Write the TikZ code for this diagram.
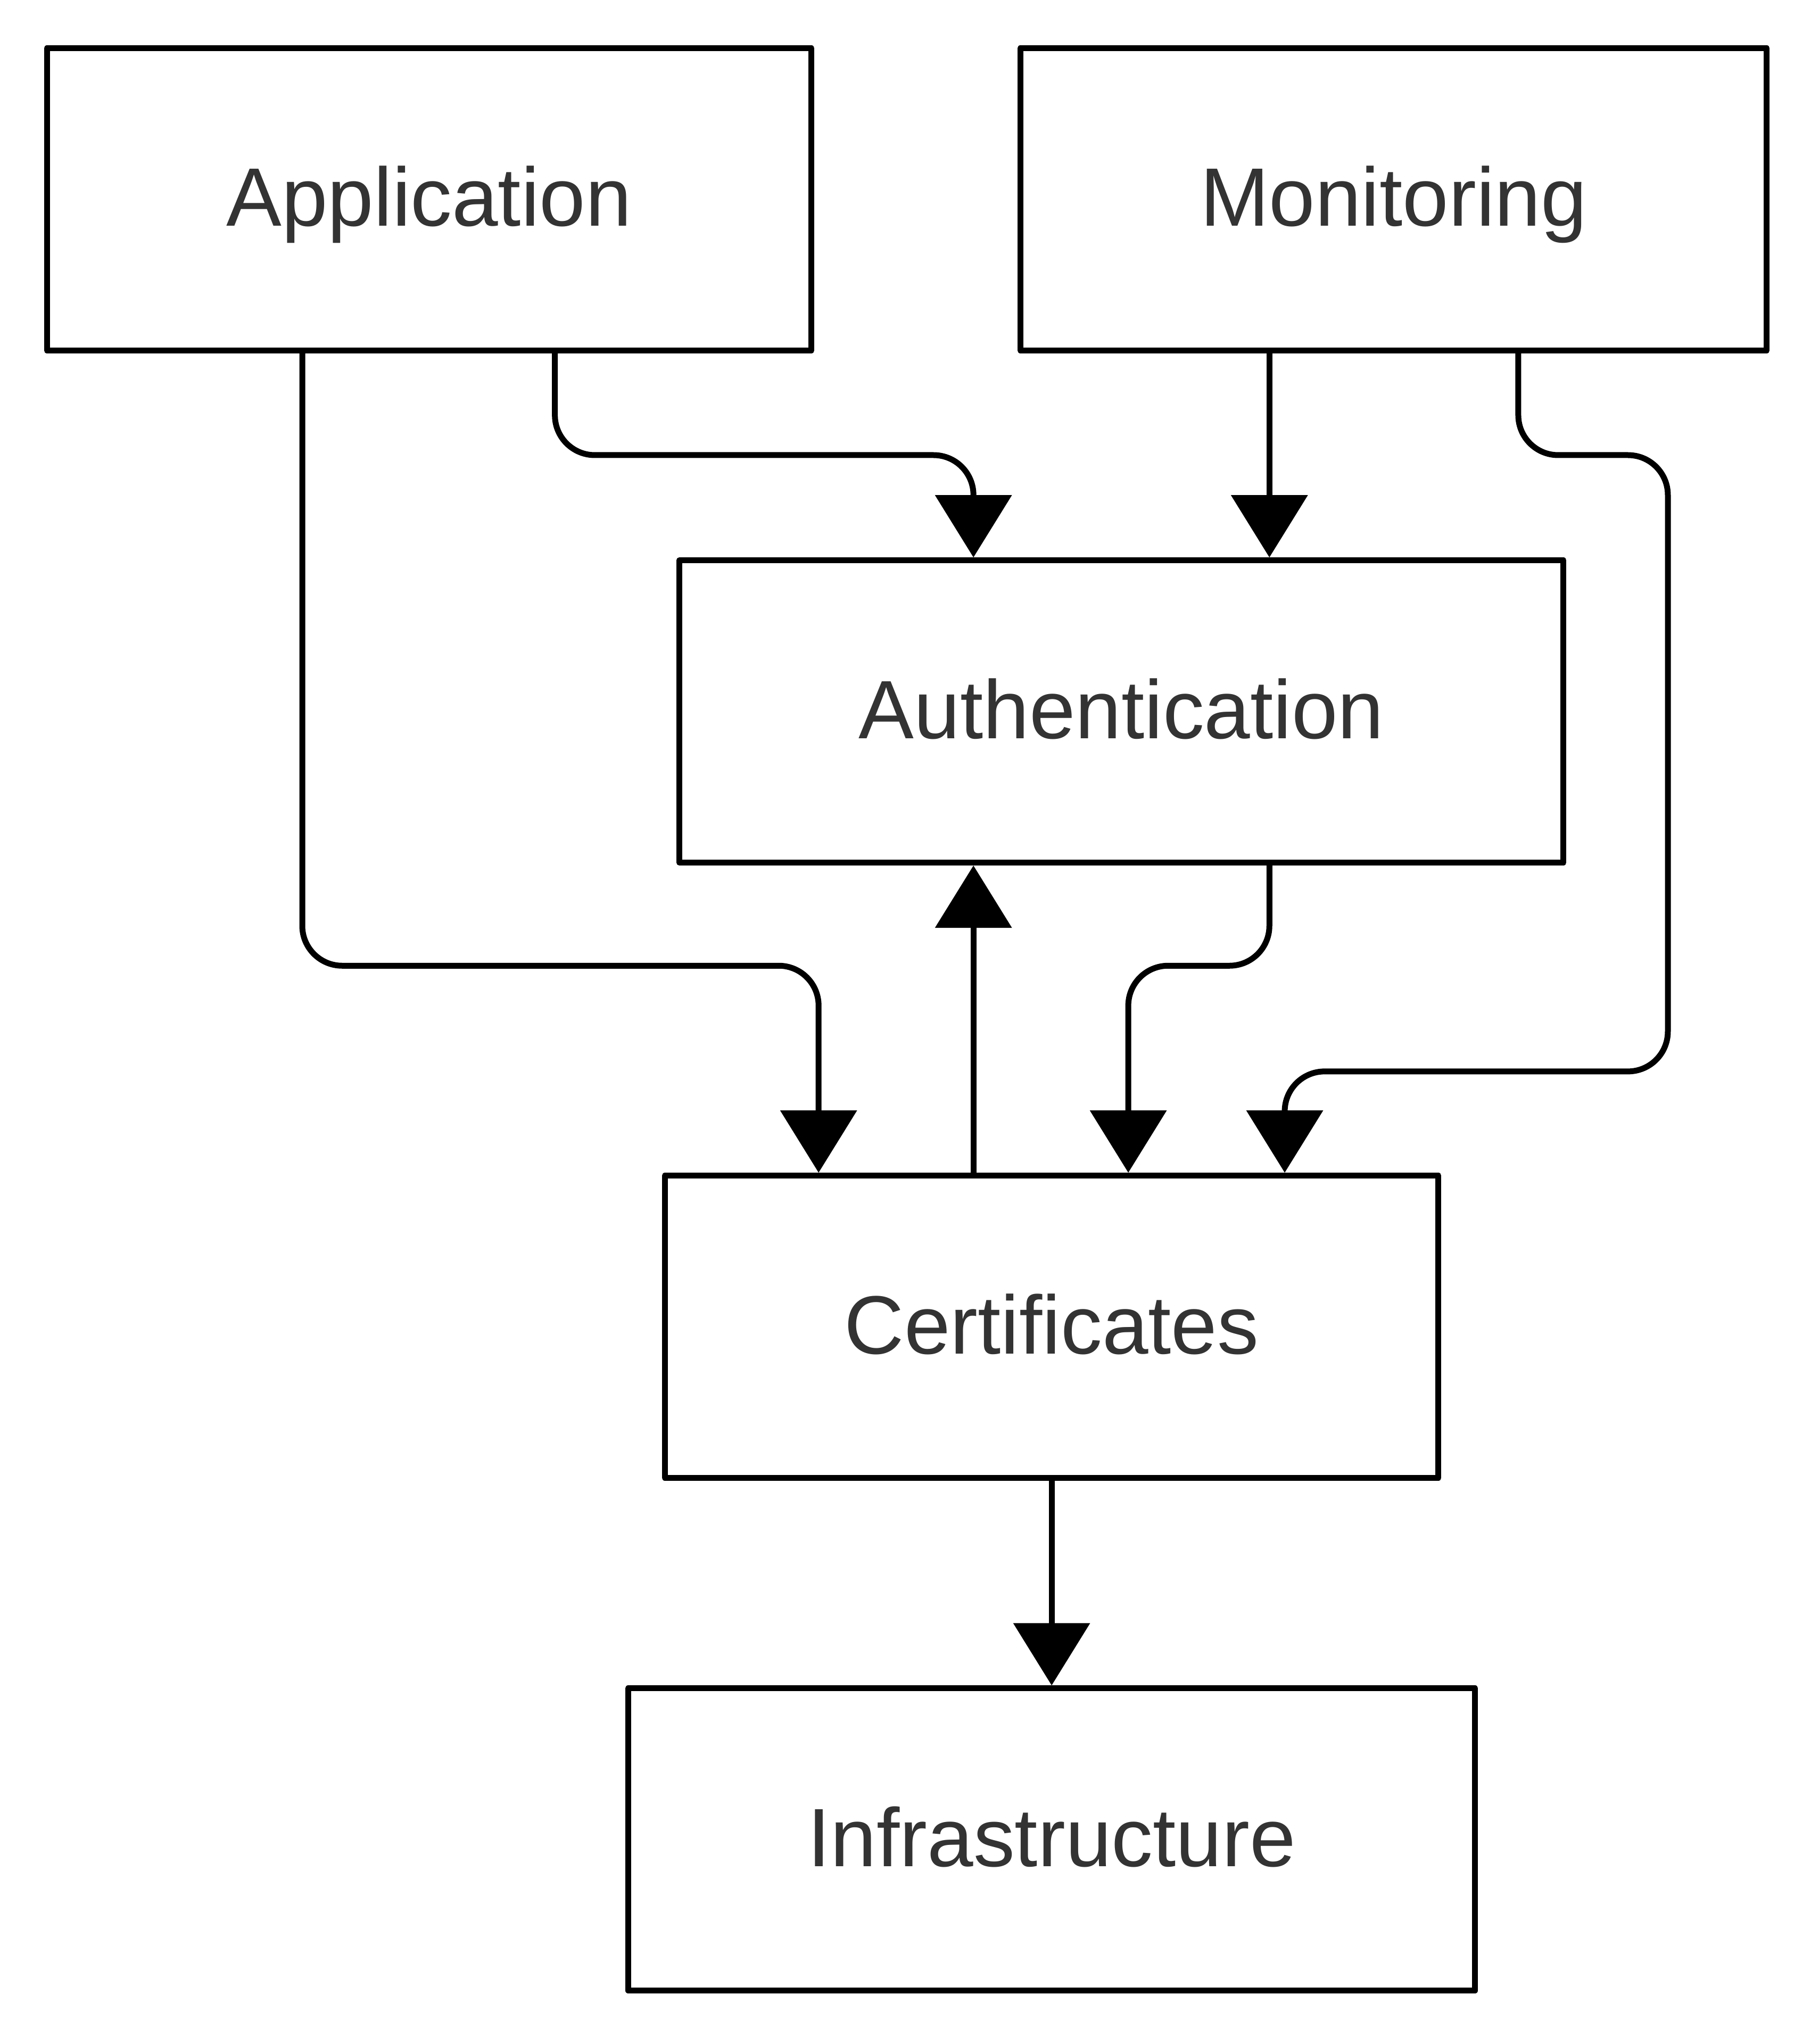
\documentclass[tikz,border=0pt]{standalone}
\usepackage{fontspec}
\setmainfont{Liberation Sans}
\usetikzlibrary{arrows.meta}
\definecolor{textgray}{HTML}{333333}
\begin{document}
\begin{tikzpicture}[x=0.00993cm, y=-0.00993cm, line width=0.11cm, line join=round,
	font=\fontsize{44.3}{53}\selectfont, >={Triangle[width=1.42cm,length=1.17cm]},
	layer/.style={draw, rectangle, text=textgray, minimum height=5.68cm, text height=36pt, text depth=7.2pt},
	link/.style={->, rounded corners=0.75cm}]
				\useasboundingbox (0,0) rectangle (3442,3867);
				% boxes
				\node[layer, minimum width=14.37cm] (app) at (812,377) {Application};
				\node[layer, minimum width=14.03cm] (mon) at (2637,377) {Monitoring};
				\node[layer, minimum width=16.62cm] (auth) at (2122,1346) {Authentication};
				\node[layer, minimum width=14.54cm] (cert) at (1990,2510) {Certificates};
				\node[layer, minimum width=15.92cm] (infra) at (1990,3480) {Infrastructure};
				% bends
				\path (1050,861) coordinate (a1) (1842,861) coordinate (a2)
					(572,1827) coordinate (c1) (1549,1827) coordinate (c2)
					(2402,1827) coordinate (d1) (2135,1827) coordinate (d2)
					(2873,861) coordinate (m1) (3156,861) coordinate (m2) (2431,2027) coordinate (m3)
					(2402,0) coordinate (xm) (1842,0) coordinate (xc);
				\draw[link] (app.south -| a1) |- (a2) -- (auth.north -| a2);
				\draw[link] (mon.south -| xm) -- (auth.north -| xm);
				\draw[link] (mon.south -| m1) |- (m2) |- (m3) -- (cert.north -| m3);
				\draw[link] (app.south -| c1) |- (c2) -- (cert.north -| c2);
				\draw[link] (cert.north -| xc) -- (auth.south -| xc);
				\draw[link] (auth.south -| d1) |- (d2) -- (cert.north -| d2);
				\draw[link] (cert.south) -- (infra.north);
			\end{tikzpicture}
\end{document}
